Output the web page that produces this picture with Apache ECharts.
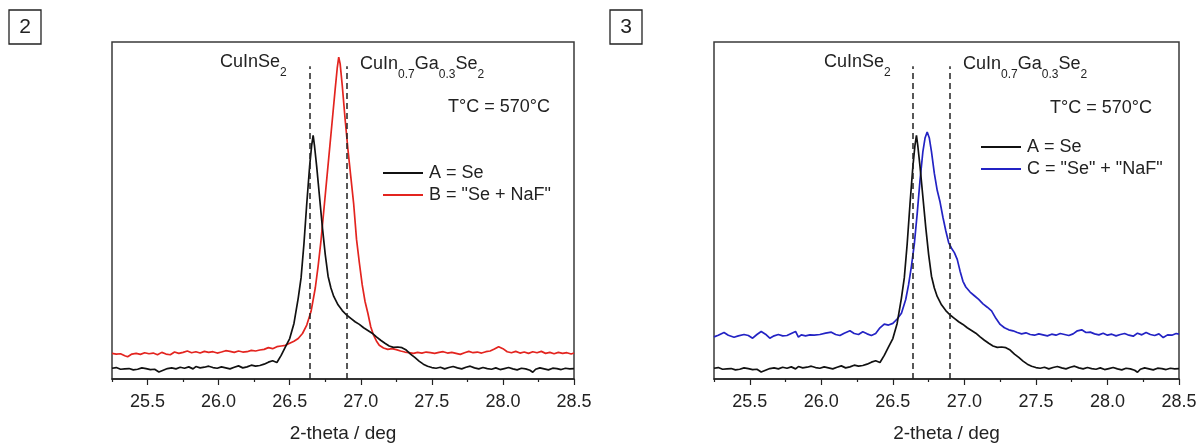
<!DOCTYPE html>
<html>
<head>
<meta charset="utf-8">
<script src="https://cdn.jsdelivr.net/npm/echarts@6/dist/echarts.min.js"></script>
<style>
html,body{margin:0;padding:0;background:#fff;}
#chart{width:1204px;height:448px;}
</style>
</head>
<body>
<div id="chart"></div>
<script>
// ---- data (2-theta in deg, intensity in arbitrary units 0..100) ----
const nameA = 'A = Se';
const nameB = 'B = "Se + NaF"';
const nameC = 'C = "Se" + "NaF"';

const seriesA = [
[25.25,3.2],[25.28,3.4],[25.31,2.9],[25.34,3.0],[25.37,3.1],[25.40,2.7],[25.43,2.9],[25.46,3.3],[25.49,3.1],[25.52,2.8],
[25.55,2.9],[25.58,2.1],[25.61,2.6],[25.64,3.1],[25.67,3.3],[25.70,3.0],[25.73,3.5],[25.76,3.2],[25.79,3.6],[25.82,3.0],
[25.84,3.7],[25.87,3.3],[25.90,3.5],[25.93,3.8],[25.96,3.4],[25.99,3.2],[26.02,3.6],[26.05,3.3],[26.08,3.0],[26.11,3.5],
[26.14,3.9],[26.17,3.3],[26.20,3.6],[26.23,4.1],[26.26,3.8],[26.29,4.0],[26.32,4.4],[26.35,5.0],[26.38,5.4],[26.41,4.9],
[26.44,7.0],[26.47,9.5],[26.50,12.0],[26.53,16.5],[26.56,24.0],[26.58,30.0],[26.60,40.0],[26.62,52.0],[26.64,63.0],[26.655,69.5],
[26.665,72.3],[26.675,69.0],[26.69,63.0],[26.71,54.0],[26.73,45.0],[26.75,37.0],[26.77,30.5],[26.79,27.0],[26.81,24.5],[26.84,22.0],
[26.87,20.3],[26.90,19.0],[26.93,18.0],[26.96,17.0],[26.99,16.2],[27.02,15.2],[27.05,14.4],[27.08,13.6],[27.11,12.5],[27.14,11.5],
[27.17,10.6],[27.20,9.8],[27.23,9.4],[27.26,9.5],[27.29,9.3],[27.32,8.6],[27.35,7.4],[27.38,6.4],[27.41,5.3],[27.44,4.4],
[27.47,3.8],[27.50,3.4],[27.53,3.2],[27.56,3.5],[27.59,3.0],[27.62,3.4],[27.65,3.7],[27.68,3.3],[27.71,3.0],[27.74,3.5],
[27.77,3.8],[27.80,3.3],[27.83,3.0],[27.86,3.4],[27.89,3.1],[27.92,2.9],[27.95,3.3],[27.98,2.8],[28.01,3.1],[28.04,3.4],
[28.07,3.0],[28.10,2.7],[28.13,3.2],[28.16,3.0],[28.19,2.6],[28.21,2.0],[28.23,2.9],[28.26,3.3],[28.29,3.0],[28.32,2.7],
[28.35,3.2],[28.38,3.1],[28.41,2.8],[28.44,3.2],[28.47,3.0],[28.50,3.1]
];

const seriesB = [
[25.25,7.6],[25.28,7.4],[25.31,7.5],[25.34,6.9],[25.36,6.6],[25.39,7.4],[25.42,7.6],[25.45,7.3],[25.48,7.8],[25.51,7.5],
[25.54,7.7],[25.57,7.2],[25.60,7.9],[25.63,7.4],[25.66,7.2],[25.69,8.0],[25.72,7.6],[25.75,7.9],[25.78,8.3],[25.81,7.8],
[25.84,8.1],[25.87,7.7],[25.90,8.2],[25.93,7.9],[25.96,8.1],[25.99,7.7],[26.02,8.0],[26.05,8.4],[26.08,8.2],[26.11,7.9],
[26.14,8.3],[26.17,8.0],[26.20,8.1],[26.23,8.5],[26.26,8.3],[26.29,8.6],[26.32,8.8],[26.35,9.3],[26.38,9.0],[26.41,9.6],
[26.44,9.8],[26.47,10.0],[26.50,10.6],[26.53,11.2],[26.56,12.0],[26.59,13.5],[26.62,16.0],[26.65,20.0],[26.68,27.0],[26.70,33.5],
[26.72,41.0],[26.74,50.0],[26.76,59.0],[26.78,68.0],[26.80,77.0],[26.82,86.0],[26.835,92.5],[26.845,95.5],[26.855,93.5],[26.87,87.0],
[26.89,77.0],[26.91,68.0],[26.93,60.0],[26.95,52.0],[26.97,41.5],[26.99,34.5],[27.01,28.0],[27.03,23.0],[27.05,19.5],[27.07,15.5],
[27.09,13.0],[27.11,11.3],[27.13,10.0],[27.16,9.2],[27.19,8.8],[27.22,9.0],[27.25,8.7],[27.28,8.3],[27.31,8.0],[27.34,7.8],
[27.37,7.6],[27.40,7.9],[27.43,7.7],[27.46,8.0],[27.49,7.8],[27.52,7.6],[27.55,7.9],[27.58,8.1],[27.61,7.7],[27.64,7.9],
[27.67,7.6],[27.70,7.3],[27.73,7.8],[27.76,8.2],[27.79,7.8],[27.82,8.0],[27.85,7.7],[27.88,8.1],[27.91,8.3],[27.94,8.9],
[27.97,9.6],[28.00,9.0],[28.03,8.1],[28.06,7.8],[28.09,8.2],[28.12,7.7],[28.15,8.0],[28.18,7.6],[28.21,8.1],[28.24,7.8],
[28.27,8.2],[28.30,7.6],[28.33,7.9],[28.36,7.5],[28.39,7.9],[28.42,7.6],[28.45,7.8],[28.48,7.4],[28.50,7.7]
];

const seriesC = [
[25.25,12.5],[25.28,13.0],[25.32,13.8],[25.35,13.0],[25.39,12.4],[25.42,12.8],[25.46,13.2],[25.49,12.9],[25.52,12.1],[25.55,13.2],
[25.58,14.1],[25.61,13.3],[25.64,12.1],[25.67,12.8],[25.70,13.2],[25.73,12.8],[25.76,12.9],[25.79,13.5],[25.82,14.1],[25.84,12.4],
[25.86,13.1],[25.89,12.8],[25.92,13.1],[25.95,13.0],[25.99,13.2],[26.03,13.6],[26.07,13.9],[26.10,13.2],[26.13,12.9],[26.16,13.6],
[26.20,14.3],[26.23,13.5],[26.26,13.2],[26.29,14.0],[26.32,13.4],[26.35,12.9],[26.38,13.5],[26.41,15.2],[26.44,16.3],[26.47,16.0],
[26.50,16.5],[26.53,17.8],[26.56,19.5],[26.59,23.6],[26.61,28.0],[26.63,33.5],[26.65,40.0],[26.67,49.0],[26.69,59.0],[26.71,67.5],
[26.725,71.5],[26.74,73.3],[26.755,71.5],[26.77,67.5],[26.79,61.0],[26.81,56.0],[26.83,52.5],[26.85,48.0],[26.87,44.0],[26.89,40.5],
[26.91,38.8],[26.93,37.5],[26.95,35.5],[26.97,32.0],[26.99,29.0],[27.01,27.3],[27.04,25.8],[27.07,24.7],[27.10,23.6],[27.13,22.3],
[27.16,21.3],[27.19,20.2],[27.22,18.0],[27.25,16.2],[27.28,15.2],[27.31,14.6],[27.34,14.3],[27.37,13.8],[27.40,13.4],[27.43,13.7],
[27.46,13.2],[27.49,13.0],[27.52,13.4],[27.55,13.1],[27.58,12.8],[27.61,13.3],[27.64,13.0],[27.67,13.5],[27.70,13.2],[27.73,12.9],
[27.76,13.4],[27.79,14.3],[27.82,14.6],[27.85,13.8],[27.88,13.9],[27.91,13.4],[27.94,13.1],[27.97,13.6],[28.00,13.0],[28.03,13.3],
[28.06,12.8],[28.09,13.2],[28.12,13.5],[28.15,13.0],[28.18,12.7],[28.21,13.6],[28.24,13.1],[28.27,13.8],[28.30,13.2],[28.33,12.9],
[28.36,13.4],[28.39,12.3],[28.42,13.1],[28.45,13.0],[28.48,13.5],[28.50,13.3]
];

const refLines = [26.64, 26.90];      // CuInSe2, CuIn0.7Ga0.3Se2 reference positions
const refTop = 92.8;                  // top of the dashed reference lines (intensity units)
const tickLabels = [25.5, 26.0, 26.5, 27.0, 27.5, 28.0, 28.5];
const minorTicks = [25.25, 25.75, 26.25, 26.75, 27.25, 27.75, 28.25];
const xRange = [25.25, 28.5];
const panelNames = ['2', '3'];
const axisTitle = '2-theta / deg';
const tempText = 'T°C = 570°C';

// ---- chart ----
const FONT = '"Liberation Sans", Arial, sans-serif';
const TXT = '#222';
const chart = echarts.init(document.getElementById('chart'), null, {renderer: 'canvas'});

const grids = [
  {left: 112, top: 42, width: 462, height: 342},
  {left: 714, top: 42, width: 465, height: 342}
].map(g => Object.assign(g, {show: true, borderColor: '#3a3a3a', borderWidth: 1.5, backgroundColor: 'transparent', containLabel: false}));

function mainX(gi) {
  return {
    type: 'value', gridIndex: gi, min: xRange[0], max: xRange[1], position: 'bottom',
    name: axisTitle, nameLocation: 'middle', nameGap: 45,
    nameTextStyle: {fontFamily: FONT, fontSize: 19, color: TXT},
    axisLine: {show: true, onZero: false, lineStyle: {color: '#222', width: 1.5}},
    axisTick: {show: true, inside: false, length: 6, customValues: tickLabels, lineStyle: {color: '#222', width: 1.2}},
    axisLabel: {show: true, customValues: tickLabels, margin: 14, fontFamily: FONT, fontSize: 18, color: TXT,
      formatter: v => Number(v).toFixed(1)},
    splitLine: {show: false}
  };
}
function minorX(gi) {
  return {
    type: 'value', gridIndex: gi, min: xRange[0], max: xRange[1], position: 'bottom',
    axisLine: {show: false, onZero: false},
    axisTick: {show: true, inside: false, length: 3, customValues: minorTicks, lineStyle: {color: '#222', width: 1.2}},
    axisLabel: {show: false},
    splitLine: {show: false}
  };
}
function yAx(gi) {
  return {type: 'value', gridIndex: gi, min: 0, max: 100, show: false, splitLine: {show: false}};
}

function refMarkLine() {
  return {
    silent: true, symbol: 'none', label: {show: false},
    lineStyle: {color: '#222', type: [6, 4], width: 1.5},
    data: refLines.map(x => [{coord: [x, 0]}, {coord: [x, refTop]}])
  };
}

function lineSeries(name, data, color, xi, yi, withRef) {
  const s = {
    type: 'line', name: name, data: data, xAxisIndex: xi, yAxisIndex: yi,
    symbol: 'none', showSymbol: false, smooth: false, animation: false,
    lineStyle: {color: color, width: 1.7}, itemStyle: {color: color},
    emphasis: {disabled: true}
  };
  if (withRef) s.markLine = refMarkLine();
  return s;
}

const subRich = {
  m: {fontFamily: FONT, fontSize: 18, color: TXT, lineHeight: 34},
  s: {fontFamily: FONT, fontSize: 12, color: TXT, padding: [22, 0, 0, 0]}
};
function txt(x, y, text, rich, size) {
  return {type: 'text', x: x, y: y, silent: true,
    style: {text: text, rich: rich, fill: TXT, font: (size || 18) + 'px ' + FONT, verticalAlign: 'middle', align: 'left'}};
}
function panelLabel(x, y, label) {
  return [
    {type: 'rect', silent: true, shape: {x: x, y: y, width: 32, height: 34}, style: {fill: 'none', stroke: '#222', lineWidth: 1.3}},
    {type: 'text', silent: true, x: x + 16, y: y + 17, style: {text: label, fill: TXT, font: '21px ' + FONT, align: 'center', verticalAlign: 'middle'}}
  ];
}

const legendBase = {
  orient: 'vertical', itemWidth: 40, itemHeight: 2, itemGap: 4, padding: 0, icon: 'rect',
  selectedMode: false, textStyle: {fontFamily: FONT, fontSize: 18, color: TXT, padding: [0, 0, 0, 1]}
};

const option = {
  backgroundColor: '#fff',
  animation: false,
  grid: grids,
  xAxis: [mainX(0), minorX(0), mainX(1), minorX(1)],
  yAxis: [yAx(0), yAx(1)],
  legend: [
    Object.assign({data: [nameA, nameB], left: 383, top: 164}, legendBase),
    Object.assign({data: [nameA, nameC], left: 981, top: 138}, legendBase)
  ],
  series: [
    lineSeries(nameB, seriesB, '#e3241f', 0, 0, false),
    lineSeries(nameA, seriesA, '#111111', 0, 0, true),
    lineSeries(nameC, seriesC, '#2323c4', 2, 1, false),
    lineSeries(nameA, seriesA, '#111111', 2, 1, true)
  ],
  graphic: [
    ...panelLabel(9, 10, panelNames[0]),
    ...panelLabel(610, 10, panelNames[1]),
    txt(220, 62, '{m|CuInSe}{s|2}', subRich),
    txt(360, 64, '{m|CuIn}{s|0.7}{m|Ga}{s|0.3}{m|Se}{s|2}', subRich),
    txt(448, 107, tempText, null),
    txt(824, 62, '{m|CuInSe}{s|2}', subRich),
    txt(963, 64, '{m|CuIn}{s|0.7}{m|Ga}{s|0.3}{m|Se}{s|2}', subRich),
    txt(1050, 108, tempText, null)
  ]
};
chart.setOption(option);
</script>
</body>
</html>
